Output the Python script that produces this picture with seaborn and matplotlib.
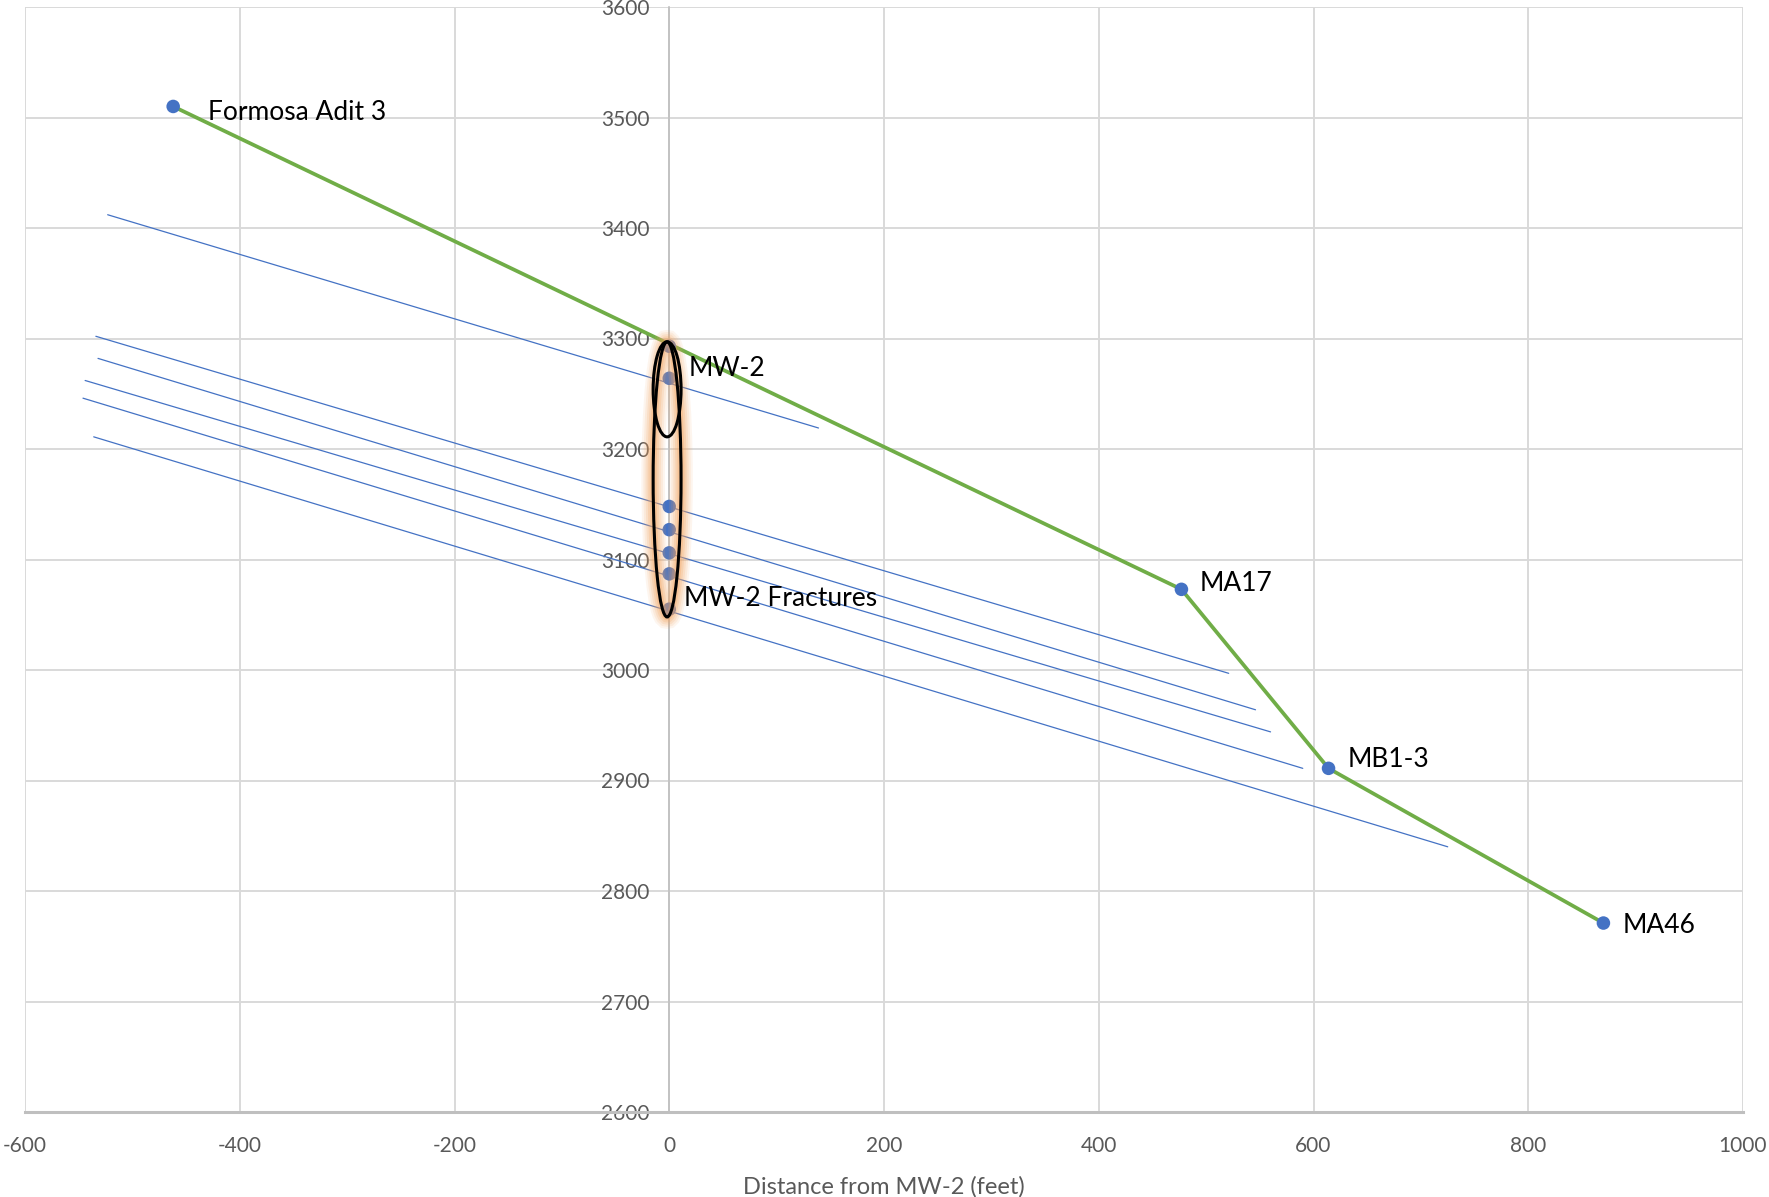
import matplotlib
matplotlib.use("Agg")
import matplotlib.pyplot as plt
import seaborn as sns
import pandas as pd
from matplotlib.patches import Ellipse

# ---- data ----
well_names = ["Formosa Adit 3", "MW-2", "MA17", "MB1-3", "MA46"]
well_x = [-462, 0, 477, 614, 870]
well_y = [3510, 3264, 3073, 2911, 2771]

surface_x = [-462, 0, 477, 614, 870]
surface_y = [3510, 3295, 3073, 2911, 2771]

mw2_x = [0, 0, 0, 0, 0, 0]
mw2_y = [3293, 3148, 3127, 3106, 3087, 3055]

frac_start_x = [-523, -534, -532, -544, -546, -536]
frac_start_y = [3412, 3302, 3282, 3262, 3246, 3211]
frac_end_x = [139, 521, 546, 560, 590, 725]
frac_end_y = [3219, 2997, 2964, 2944, 2911, 2840]

label_texts = ["Formosa Adit 3", "MW-2", "MW-2 Fractures", "MA17", "MB1-3", "MA46"]
label_x = [-462, 0, 0, 477, 614, 870]
label_y = [3510, 3264, 3055, 3073, 2911, 2771]

x_ticks = [-600, -400, -200, 0, 200, 400, 600, 800, 1000]
y_ticks = [2600, 2700, 2800, 2900, 3000, 3100, 3200, 3300, 3400, 3500, 3600]

# ---- style ----
sns.set_theme(style="white")
plt.rcParams['font.family'] = ['Lato', 'DejaVu Sans']
plt.rcParams['axes.unicode_minus'] = False

BLUE = "#4472c4"
GREEN = "#70ad47"
GRID = "#d9d9d9"
TXT = "#595959"

fig = plt.figure(figsize=(17.69, 11.97), dpi=100)
ax = fig.add_axes([25 / 1769, 1 - 1112 / 1197, (1743 - 25) / 1769, (1112 - 7) / 1197])

# fracture traces
frac_rows = []
for i in range(len(frac_start_x)):
    frac_rows.append({"id": i, "x": frac_start_x[i], "y": frac_start_y[i]})
    frac_rows.append({"id": i, "x": frac_end_x[i], "y": frac_end_y[i]})
frac_df = pd.DataFrame(frac_rows)
sns.lineplot(data=frac_df, x="x", y="y", units="id", estimator=None, sort=False,
             color=BLUE, linewidth=0.9, ax=ax, zorder=3)

# ground surface line
surf_df = pd.DataFrame({"x": surface_x, "y": surface_y})
sns.lineplot(data=surf_df, x="x", y="y", sort=False, color=GREEN, linewidth=2.7,
             ax=ax, zorder=4)

# points
pts_df = pd.DataFrame({"x": well_x + mw2_x, "y": well_y + mw2_y})
sns.scatterplot(data=pts_df, x="x", y="y", color=BLUE, s=95, edgecolor="none",
                ax=ax, zorder=5)

# ellipses with glow
outer_c, outer_h = (3297 + 3048) / 2, 3297 - 3048
inner_c, inner_h = (3297 + 3211) / 2, 3297 - 3211
ew = 26
for lw, a in [(17, 0.10), (14, 0.13), (11, 0.17), (8, 0.22), (5, 0.3)]:
    ax.add_patch(Ellipse((-2, outer_c), ew, outer_h, fill=False,
                         edgecolor="#f4a460", linewidth=lw, alpha=a, zorder=6))
ax.add_patch(Ellipse((-2, outer_c), ew, outer_h, fill=False, edgecolor="black",
                     linewidth=2.2, zorder=7))
ax.add_patch(Ellipse((-2, inner_c), ew, inner_h, fill=False, edgecolor="black",
                     linewidth=2.2, zorder=7))

# labels
offsets = [(25, -4), (14, 7), (10.5, 8), (13, 4), (14, 6.5), (14, -2)]
for t, xx, yy, off in zip(label_texts, label_x, label_y, offsets):
    ax.annotate(t, (xx, yy), xytext=off, textcoords="offset points",
                ha="left", va="center", fontsize=19, color="black", zorder=8)

# axes
ax.set_xlim(-600, 1000)
ax.set_ylim(2600, 3600)
ax.set_xticks(x_ticks)
ax.set_yticks(y_ticks)
ax.grid(True, color=GRID, linewidth=1.4)
ax.set_axisbelow(True)
ax.spines['left'].set_position(('data', 0))
ax.spines['left'].set_color("#bfbfbf")
ax.spines['left'].set_linewidth(1.2)
ax.spines['left'].set_zorder(2)
ax.spines['bottom'].set_color("#bfbfbf")
ax.spines['bottom'].set_linewidth(2.2)
ax.spines['top'].set_visible(False)
ax.spines['right'].set_visible(False)
ax.tick_params(axis='y', length=0, pad=14, labelsize=15, labelcolor=TXT)
ax.tick_params(axis='x', length=0, pad=17.5, labelsize=15, labelcolor=TXT)
ax.set_xlabel("Distance from MW-2 (feet)", fontsize=17, color=TXT, labelpad=14)
ax.set_ylabel("")

fig.savefig("out.png", dpi=100)
